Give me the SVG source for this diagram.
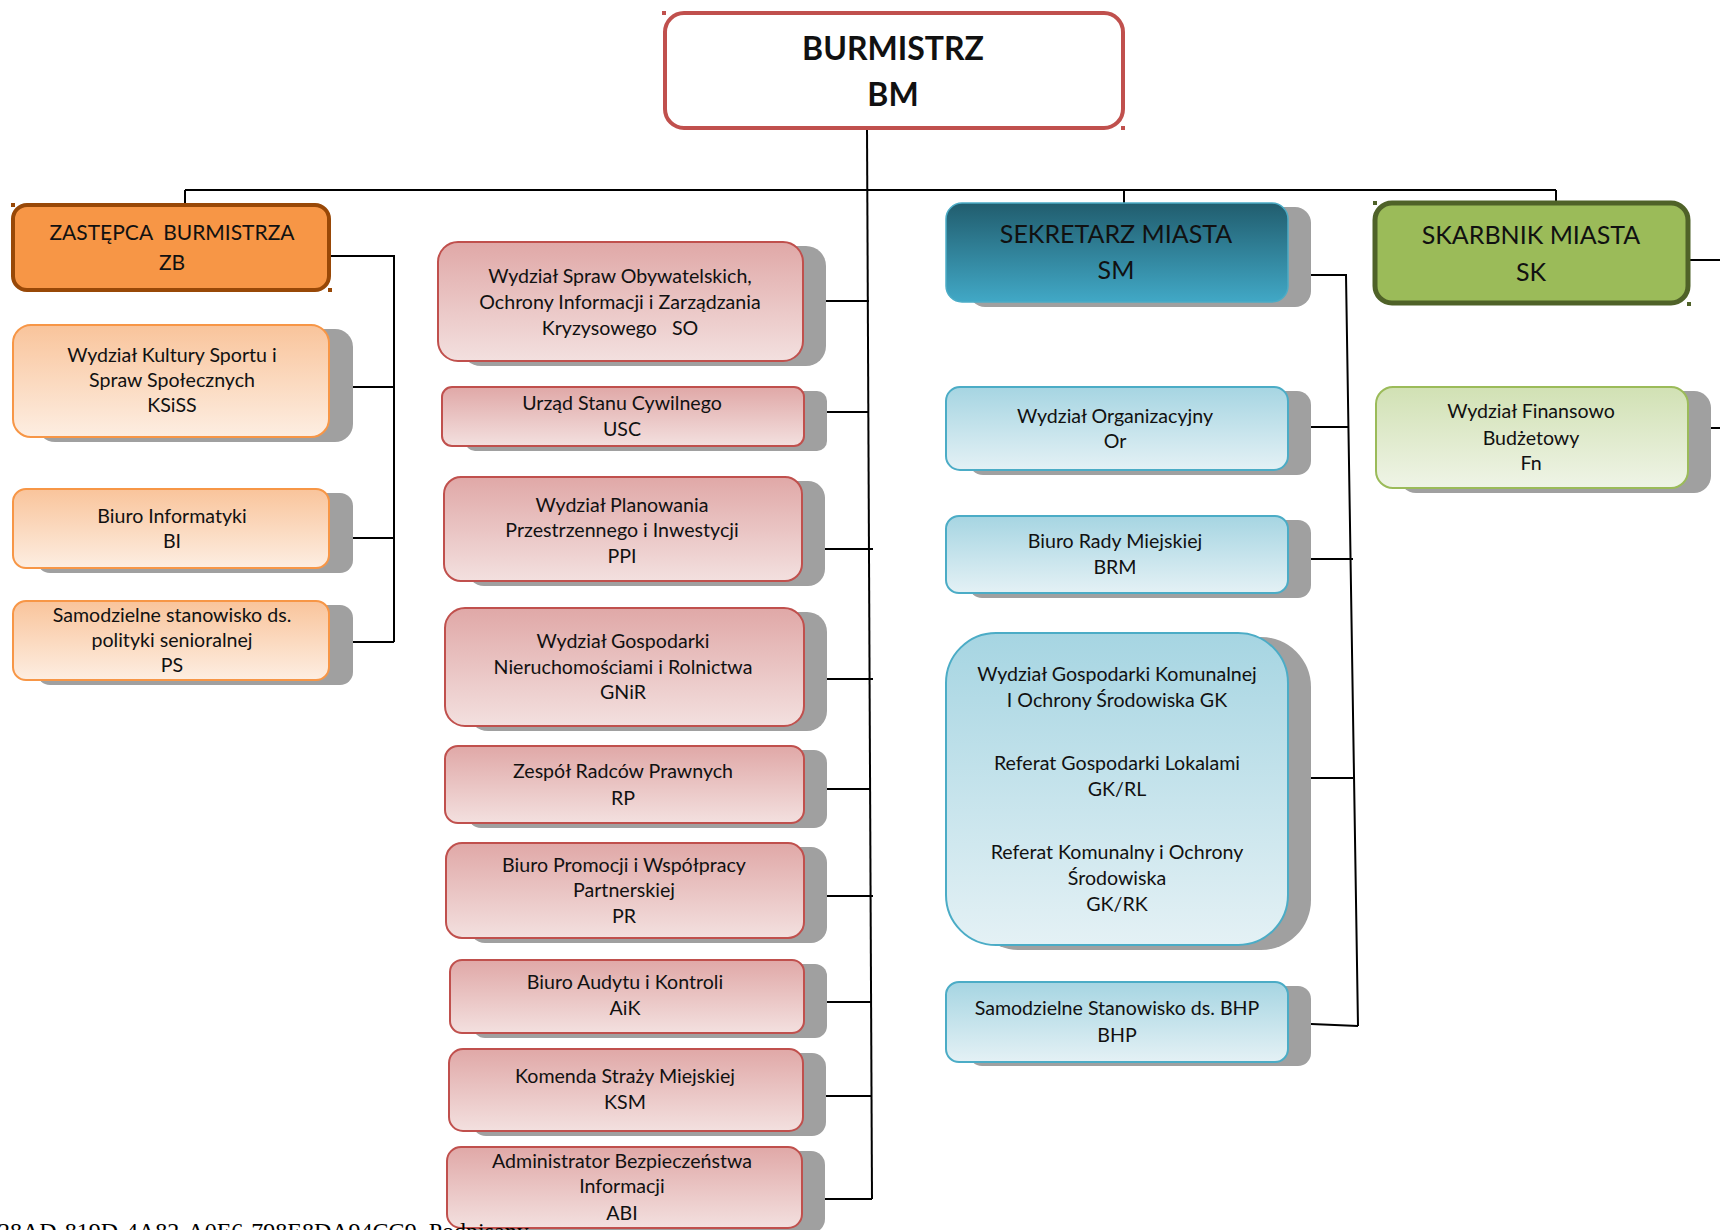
<svg xmlns="http://www.w3.org/2000/svg" width="1720" height="1230" viewBox="0 0 1720 1230">
<defs>
<linearGradient id="gOr" x1="0" y1="0" x2="0" y2="1"><stop offset="0" stop-color="#F9C49B"/><stop offset="1" stop-color="#FDEEE2"/></linearGradient>
<linearGradient id="gRed" x1="0" y1="0" x2="0" y2="1"><stop offset="0" stop-color="#E0A8A7"/><stop offset="1" stop-color="#F3E0DF"/></linearGradient>
<linearGradient id="gBlue" x1="0" y1="0" x2="0" y2="1"><stop offset="0" stop-color="#A6D5E2"/><stop offset="1" stop-color="#E4F1F5"/></linearGradient>
<linearGradient id="gSM" x1="0" y1="0" x2="0" y2="1"><stop offset="0" stop-color="#215D6E"/><stop offset="1" stop-color="#41A8C6"/></linearGradient>
<linearGradient id="gGr" x1="0" y1="0" x2="0" y2="1"><stop offset="0" stop-color="#D1E1B4"/><stop offset="1" stop-color="#EFF4E6"/></linearGradient>
</defs>
<style>
text{font-family:Lato,"Liberation Sans",sans-serif;fill:#111;text-anchor:middle}
.t{font-size:19.6px}
.h{font-size:25px}
.hz{font-size:21px}
.b{font-size:32px;font-weight:bold}
.sh{fill:#A0A0A0}
.or{fill:url(#gOr);stroke:#F79646;stroke-width:2}
.red{fill:url(#gRed);stroke:#C0504D;stroke-width:2}
.blue{fill:url(#gBlue);stroke:#4BACC6;stroke-width:2}
.gr{fill:url(#gGr);stroke:#9BBB59;stroke-width:2}
.c{fill:none;stroke:#000;stroke-width:2}
.foot{font-family:"Liberation Serif",serif;font-size:24px;text-anchor:start;fill:#000}
</style>

<g id="connectors">
<path class="c" d="M867,128 L872,1199"/>
<path class="c" d="M185,190 H1556"/>
<path class="c" d="M185,190 V205 M1124,190 V203 M1556,190 V203"/>
<path class="c" d="M329,256 H394 V642 M329,387 H394 M329,538 H394 M329,642 H394"/>
<path class="c" d="M803,301 H869 M804,412 H869 M802,549 H873 M804,679 H873 M804,789 H871 M804,896 H873 M804,1002 H872 M803,1096 H872 M802,1199 H872"/>
<path class="c" d="M1288,275 H1346 L1358,1026 M1288,427 H1348 M1288,559 H1353 M1288,778 H1353 M1288,1023 L1358,1026"/>
<path class="c" d="M1688,260 H1720 M1688,428 H1720"/>
</g>

<g id="BM">
<rect x="665" y="13" width="458" height="115" rx="19" fill="#fff" stroke="#C0504D" stroke-width="4"/>
<rect x="662" y="11" width="4" height="4" fill="#C0504D"/><rect x="1121" y="126" width="4" height="4" fill="#C0504D"/>
<text class="b" x="893" y="60">BURMISTRZ</text>
<text class="b" x="893" y="106">BM</text>
</g>

<g id="ZB">
<rect x="13" y="205" width="316" height="85" rx="14" fill="#F79646" stroke="#984807" stroke-width="4"/>
<rect x="11" y="203" width="4" height="4" fill="#984807"/><rect x="328" y="288" width="4" height="4" fill="#984807"/>
<text class="hz" x="172" y="240" xml:space="preserve">ZASTĘPCA  BURMISTRZA</text>
<text class="hz" x="172" y="270">ZB</text>
</g>

<g id="KSiSS">
<rect class="sh" x="37" y="329" width="316" height="113" rx="18"/>
<rect class="or" x="13" y="325" width="316" height="112" rx="18"/>
<text class="t" x="172" y="362">Wydział Kultury Sportu i</text>
<text class="t" x="172" y="387">Spraw Społecznych</text>
<text class="t" x="172" y="412">KSiSS</text>
</g>

<g id="BI">
<rect class="sh" x="37" y="493" width="316" height="80" rx="13"/>
<rect class="or" x="13" y="489" width="316" height="79" rx="13"/>
<text class="t" x="172" y="523">Biuro Informatyki</text>
<text class="t" x="172" y="548">BI</text>
</g>

<g id="PS">
<rect class="sh" x="37" y="605" width="316" height="80" rx="13"/>
<rect class="or" x="13" y="601" width="316" height="79" rx="13"/>
<text class="t" x="172" y="622">Samodzielne stanowisko ds.</text>
<text class="t" x="172" y="647">polityki senioralnej</text>
<text class="t" x="172" y="672">PS</text>
</g>

<g id="SO">
<rect class="sh" x="461" y="246" width="365" height="120" rx="20"/>
<rect class="red" x="438" y="242" width="365" height="119" rx="20"/>
<text class="t" x="620" y="283">Wydział Spraw Obywatelskich,</text>
<text class="t" x="620" y="309">Ochrony Informacji i Zarządzania</text>
<text class="t" x="620" y="335" xml:space="preserve">Kryzysowego   SO</text>
</g>

<g id="USC">
<rect class="sh" x="465" y="391" width="362" height="60" rx="10"/>
<rect class="red" x="442" y="387" width="362" height="59" rx="10"/>
<text class="t" x="622" y="410">Urząd Stanu Cywilnego</text>
<text class="t" x="622" y="436">USC</text>
</g>

<g id="PPI">
<rect class="sh" x="467" y="481" width="358" height="105" rx="17"/>
<rect class="red" x="444" y="477" width="358" height="104" rx="17"/>
<text class="t" x="622" y="512">Wydział Planowania</text>
<text class="t" x="622" y="537">Przestrzennego i Inwestycji</text>
<text class="t" x="622" y="563">PPI</text>
</g>

<g id="GNiR">
<rect class="sh" x="468" y="612" width="359" height="119" rx="20"/>
<rect class="red" x="445" y="608" width="359" height="118" rx="20"/>
<text class="t" x="623" y="648">Wydział Gospodarki</text>
<text class="t" x="623" y="674">Nieruchomościami i Rolnictwa</text>
<text class="t" x="623" y="699">GNiR</text>
</g>

<g id="RP">
<rect class="sh" x="468" y="750" width="359" height="78" rx="13"/>
<rect class="red" x="445" y="746" width="359" height="77" rx="13"/>
<text class="t" x="623" y="778">Zespół Radców Prawnych</text>
<text class="t" x="623" y="805">RP</text>
</g>

<g id="PR">
<rect class="sh" x="469" y="847" width="358" height="96" rx="16"/>
<rect class="red" x="446" y="843" width="358" height="95" rx="16"/>
<text class="t" x="624" y="872">Biuro Promocji i Współpracy</text>
<text class="t" x="624" y="897">Partnerskiej</text>
<text class="t" x="624" y="923">PR</text>
</g>

<g id="AiK">
<rect class="sh" x="473" y="964" width="354" height="74" rx="12"/>
<rect class="red" x="450" y="960" width="354" height="73" rx="12"/>
<text class="t" x="625" y="989">Biuro Audytu i Kontroli</text>
<text class="t" x="625" y="1015">AiK</text>
</g>

<g id="KSM">
<rect class="sh" x="472" y="1053" width="354" height="83" rx="14"/>
<rect class="red" x="449" y="1049" width="354" height="82" rx="14"/>
<text class="t" x="625" y="1083">Komenda Straży Miejskiej</text>
<text class="t" x="625" y="1109">KSM</text>
</g>

<g id="ABI">
<rect class="sh" x="470" y="1151" width="355" height="82" rx="14"/>
<rect class="red" x="447" y="1147" width="355" height="81" rx="14"/>
<text class="t" x="622" y="1168">Administrator Bezpieczeństwa</text>
<text class="t" x="622" y="1193">Informacji</text>
<text class="t" x="622" y="1220">ABI</text>
</g>

<g id="SM">
<rect class="sh" x="969" y="207" width="342" height="100" rx="16"/>
<rect x="946" y="203" width="342" height="99" rx="16" fill="url(#gSM)" stroke="#4BACC6" stroke-width="1.5"/>
<text class="h" x="1116" y="243">SEKRETARZ MIASTA</text>
<text class="h" x="1116" y="279">SM</text>
</g>

<g id="Or">
<rect class="sh" x="969" y="391" width="342" height="84" rx="14"/>
<rect class="blue" x="946" y="387" width="342" height="83" rx="14"/>
<text class="t" x="1115" y="423">Wydział Organizacyjny</text>
<text class="t" x="1115" y="448">Or</text>
</g>

<g id="BRM">
<rect class="sh" x="969" y="520" width="342" height="78" rx="13"/>
<rect class="blue" x="946" y="516" width="342" height="77" rx="13"/>
<text class="t" x="1115" y="548">Biuro Rady Miejskiej</text>
<text class="t" x="1115" y="574">BRM</text>
</g>

<g id="GK">
<rect class="sh" x="969" y="637" width="342" height="313" rx="50"/>
<rect class="blue" x="946" y="633" width="342" height="312" rx="50"/>
<text class="t" x="1117" y="681">Wydział Gospodarki Komunalnej</text>
<text class="t" x="1117" y="707">I Ochrony Środowiska GK</text>
<text class="t" x="1117" y="770">Referat Gospodarki Lokalami</text>
<text class="t" x="1117" y="796">GK/RL</text>
<text class="t" x="1117" y="859">Referat Komunalny i Ochrony</text>
<text class="t" x="1117" y="885">Środowiska</text>
<text class="t" x="1117" y="911">GK/RK</text>
</g>

<g id="BHP">
<rect class="sh" x="969" y="986" width="342" height="80" rx="13"/>
<rect class="blue" x="946" y="982" width="342" height="80" rx="13"/>
<text class="t" x="1117" y="1015">Samodzielne Stanowisko ds. BHP</text>
<text class="t" x="1117" y="1042">BHP</text>
</g>

<g id="SK">
<rect x="1375" y="203" width="313" height="100" rx="17" fill="#9BBB59" stroke="#4F6228" stroke-width="5"/>
<rect x="1373" y="201" width="4" height="4" fill="#4F6228"/><rect x="1687" y="302" width="4" height="4" fill="#4F6228"/>
<text class="h" x="1531" y="244">SKARBNIK MIASTA</text>
<text class="h" x="1531" y="281">SK</text>
</g>

<g id="Fn">
<rect class="sh" x="1399" y="391" width="312" height="102" rx="17"/>
<rect class="gr" x="1376" y="387" width="312" height="101" rx="17"/>
<text class="t" x="1531" y="418">Wydział Finansowo</text>
<text class="t" x="1531" y="445">Budżetowy</text>
<text class="t" x="1531" y="470">Fn</text>
</g>

<text class="foot" x="-2" y="1239">28AD-819D-4A82-A0E6-798E8DA94CC9. Podpisany</text>
</svg>
